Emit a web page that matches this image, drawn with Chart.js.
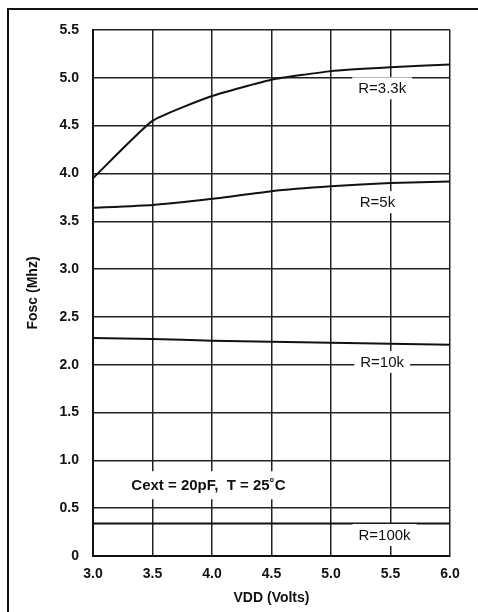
<!DOCTYPE html>
<html>
<head>
<meta charset="utf-8">
<script src="https://cdn.jsdelivr.net/npm/chart.js@4"></script>
<style>
  html, body { margin: 0; padding: 0; background: #fff; }
  #wrap { width: 478px; height: 612px; position: relative; }
</style>
</head>
<body>
<div id="wrap"><canvas id="c" width="478" height="612"></canvas></div>
<script>
// ---- data ----
const vdd = [3.0, 3.5, 4.0, 4.5, 5.0, 5.5, 6.0];
const fR3k3 = [3.95, 4.55, 4.81, 4.98, 5.07, 5.11, 5.14];
const fR5k = [3.64, 3.67, 3.735, 3.815, 3.865, 3.90, 3.915];
const fR10k = [2.28, 2.27, 2.25, 2.24, 2.23, 2.22, 2.21];
const fR100k = [0.34, 0.34, 0.34, 0.34, 0.34, 0.34, 0.34];
const seriesNames = ['R=3.3k', 'R=5k', 'R=10k', 'R=100k'];
const noteText = 'Cext = 20pF,  T = 25\u02DAC';
const xTitle = 'VDD (Volts)';
const yTitle = 'Fosc (Mhz)';

const seriesValues = [fR3k3, fR5k, fR10k, fR100k];
const toPoints = arr => vdd.map((x, i) => ({ x: x, y: arr[i] }));

// annotation placement (in data coordinates)
const labelPlacement = [
  { x: 5.43, y: 4.89 },
  { x: 5.39, y: 3.70 },
  { x: 5.43, y: 2.03 },
  { x: 5.45, y: 0.22 }
];
const notePlacement = { x: 3.97, y: 0.74 };

const frame = {
  id: 'frame',
  beforeDraw(chart) {
    const ctx = chart.ctx;
    ctx.save();
    ctx.fillStyle = '#fff';
    ctx.fillRect(0, 0, chart.width, chart.height);
    ctx.strokeStyle = '#111';
    ctx.lineWidth = 2;
    ctx.strokeRect(8, 9, 600, 700);
    ctx.restore();
  }
};

const labels = {
  id: 'labels',
  afterDatasetsDraw(chart) {
    const ctx = chart.ctx;
    const xs = chart.scales.x, ys = chart.scales.y;
    ctx.save();
    ctx.textAlign = 'center';
    ctx.textBaseline = 'middle';
    ctx.font = '15px "Liberation Sans", Arial, sans-serif';
    seriesNames.forEach((t, i) => {
      const px = xs.getPixelForValue(labelPlacement[i].x);
      const py = ys.getPixelForValue(labelPlacement[i].y);
      const w = ctx.measureText(t).width + 12;
      ctx.fillStyle = '#fff';
      ctx.fillRect(px - w / 2, py - 11, w, 22);
      ctx.fillStyle = '#111';
      ctx.fillText(t, px, py + 1);
    });
    ctx.font = 'bold 15px "Liberation Sans", Arial, sans-serif';
    const nx = xs.getPixelForValue(notePlacement.x);
    const ny = ys.getPixelForValue(notePlacement.y);
    const nw = ctx.measureText(noteText).width + 10;
    ctx.fillStyle = '#fff';
    ctx.fillRect(nx - nw / 2, ny - 14, nw, 28);
    ctx.fillStyle = '#111';
    ctx.fillText(noteText, nx, ny + 1);
    ctx.restore();
  }
};

const tickFont = { family: '"Liberation Sans", Arial, sans-serif', size: 14, weight: 'bold' };

new Chart(document.getElementById('c'), {
  type: 'line',
  data: {
    datasets: seriesValues.map((vals, i) => ({
      label: seriesNames[i],
      data: toPoints(vals),
      borderColor: '#111',
      borderWidth: 2,
      pointRadius: 0,
      tension: 0.15,
      fill: false
    }))
  },
  options: {
    responsive: false,
    animation: false,
    devicePixelRatio: 1,
    layout: { padding: { left: 0, top: 30, right: 28, bottom: 0 } },
    plugins: { legend: { display: false }, tooltip: { enabled: false } },
    scales: {
      x: {
        type: 'linear',
        min: 3, max: 6,
        afterFit(s) { s.height = 56; },
        ticks: {
          stepSize: 0.5,
          padding: 10,
          color: '#111',
          font: tickFont,
          callback: v => v.toFixed(1)
        },
        grid: { color: '#222', lineWidth: 1.5, drawTicks: false },
        border: { color: '#111', width: 2 },
        title: {
          display: true,
          text: xTitle,
          color: '#111',
          font: { family: '"Liberation Sans", Arial, sans-serif', size: 14, weight: 'bold' },
          padding: { top: 0, bottom: 5 }
        }
      },
      y: {
        type: 'linear',
        min: 0, max: 5.5,
        afterFit(s) { s.width = 93; },
        ticks: {
          stepSize: 0.5,
          padding: 14,
          color: '#111',
          font: tickFont,
          callback: v => (v === 0 ? '0' : v.toFixed(1))
        },
        grid: { color: '#222', lineWidth: 1.5, drawTicks: false },
        border: { color: '#111', width: 2 },
        title: {
          display: true,
          text: yTitle,
          color: '#111',
          font: { family: '"Liberation Sans", Arial, sans-serif', size: 14, weight: 'bold' },
          padding: { top: 25, bottom: 0 }
        }
      }
    }
  },
  plugins: [frame, labels]
});
</script>
</body>
</html>
